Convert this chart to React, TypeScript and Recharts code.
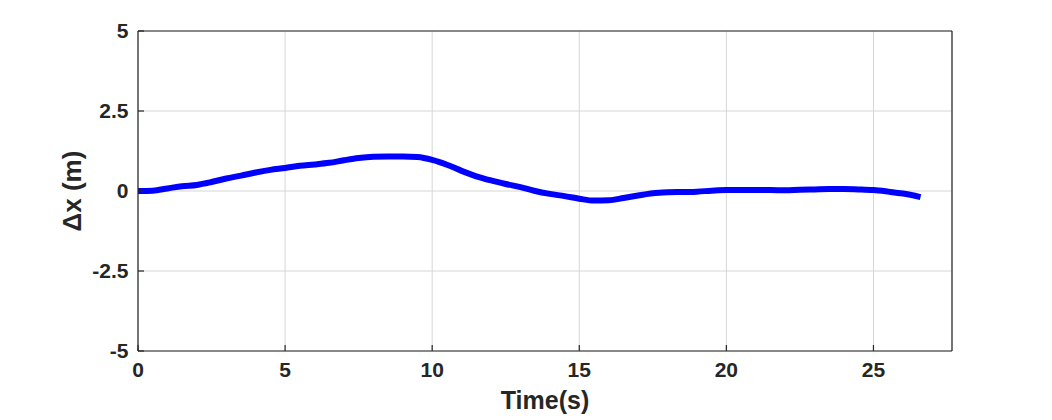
import React from 'react';
import { LineChart, Line, XAxis, YAxis, CartesianGrid, Label } from 'recharts';

const timeS = [0, 0.5, 1, 1.5, 2, 2.5, 3, 3.5, 4, 4.5, 5, 5.5, 6, 6.5, 7, 7.5, 8, 8.5, 9, 9.5, 10, 10.5, 11, 11.5, 12, 12.5, 13, 13.5, 14, 14.5, 15, 15.5, 16, 16.5, 17, 17.5, 18, 18.5, 19, 19.5, 20, 20.5, 21, 21.5, 22, 22.5, 23, 23.5, 24, 24.5, 25, 25.5, 26, 26.6];
const deltaX = [0.0, 0.01, 0.08, 0.15, 0.19, 0.28, 0.39, 0.48, 0.58, 0.66, 0.72, 0.79, 0.83, 0.88, 0.96, 1.03, 1.07, 1.08, 1.08, 1.06, 0.97, 0.82, 0.63, 0.46, 0.33, 0.22, 0.12, 0.0, -0.09, -0.16, -0.24, -0.3, -0.29, -0.22, -0.14, -0.07, -0.04, -0.03, -0.02, 0.01, 0.03, 0.03, 0.03, 0.03, 0.02, 0.04, 0.05, 0.06, 0.06, 0.05, 0.03, -0.02, -0.08, -0.19];
const xTicks = [0, 5, 10, 15, 20, 25];
const yTicks = [-5, -2.5, 0, 2.5, 5];
const xDomain = [0, 27.67];
const yDomain = [-5, 5];

const data = timeS.map((t, i) => ({ t, dx: deltaX[i] }));

const FONT = '"Liberation Sans", Arial, Helvetica, sans-serif';
const INK = '#262626';

export default function App() {
  return (
    <div style={{ position: 'absolute', left: 0, top: 0, width: 1052, height: 420, background: '#fff' }}>
      <LineChart width={1052} height={420} data={data} margin={{ top: 0, right: 0, bottom: 0, left: 0 }}>
        <CartesianGrid stroke="#d6d6d6" strokeWidth={1} xAxisId="b" yAxisId="l" />
        <XAxis
          xAxisId="b"
          dataKey="t"
          type="number"
          domain={xDomain}
          ticks={xTicks}
          height={69}
          axisLine={{ stroke: INK, strokeWidth: 1.2 }}
          tickLine={{ stroke: INK, strokeWidth: 1.2 }}
          tickSize={-6}
          tickMargin={17}
          tick={{ fill: INK, fontSize: 21, fontWeight: 700, fontFamily: FONT }}
          allowDataOverflow
        >
          <Label
            content={({ viewBox }: any) => (
              <text
                x={viewBox.x + viewBox.width / 2}
                y={351 + 58}
                textAnchor="middle"
                fill={INK}
                fontSize={25}
                fontWeight={700}
                fontFamily={FONT}
              >
                Time(s)
              </text>
            )}
          />
        </XAxis>
        <XAxis
          xAxisId="t"
          dataKey="t"
          type="number"
          orientation="top"
          domain={xDomain}
          ticks={xTicks}
          height={31}
          axisLine={{ stroke: INK, strokeWidth: 1.2 }}
          tickLine={{ stroke: INK, strokeWidth: 1.2 }}
          tickSize={-6}
          tick={false}
          allowDataOverflow
        />
        <YAxis
          yAxisId="l"
          type="number"
          domain={yDomain}
          ticks={yTicks}
          width={138}
          axisLine={{ stroke: INK, strokeWidth: 1.2 }}
          tickLine={{ stroke: INK, strokeWidth: 1.2 }}
          tickSize={-6}
          tickMargin={15.5}
          tick={{ fill: INK, fontSize: 21, fontWeight: 700, fontFamily: FONT }}
          allowDataOverflow
        >
          <Label
            content={({ viewBox }: any) => {
              const cx = 81;
              const cy = viewBox.y + viewBox.height / 2;
              return (
                <text
                  x={cx}
                  y={cy}
                  textAnchor="middle"
                  transform={`rotate(-90, ${cx}, ${cy})`}
                  fill={INK}
                  fontSize={26}
                  fontWeight={700}
                  fontFamily={FONT}
                >
                  Δx (m)
                </text>
              );
            }}
          />
        </YAxis>
        <YAxis
          yAxisId="r"
          orientation="right"
          type="number"
          domain={yDomain}
          ticks={yTicks}
          width={100}
          axisLine={{ stroke: INK, strokeWidth: 1.2 }}
          tickLine={{ stroke: INK, strokeWidth: 1.2 }}
          tickSize={-6}
          tick={false}
          allowDataOverflow
        />
        <Line
          xAxisId="b"
          yAxisId="l"
          type="monotone"
          dataKey="dx"
          stroke="#0000ff"
          strokeWidth={6}
          strokeLinejoin="round"
          strokeLinecap="butt"
          dot={false}
          activeDot={false}
          isAnimationActive={false}
        />
      </LineChart>
    </div>
  );
}
